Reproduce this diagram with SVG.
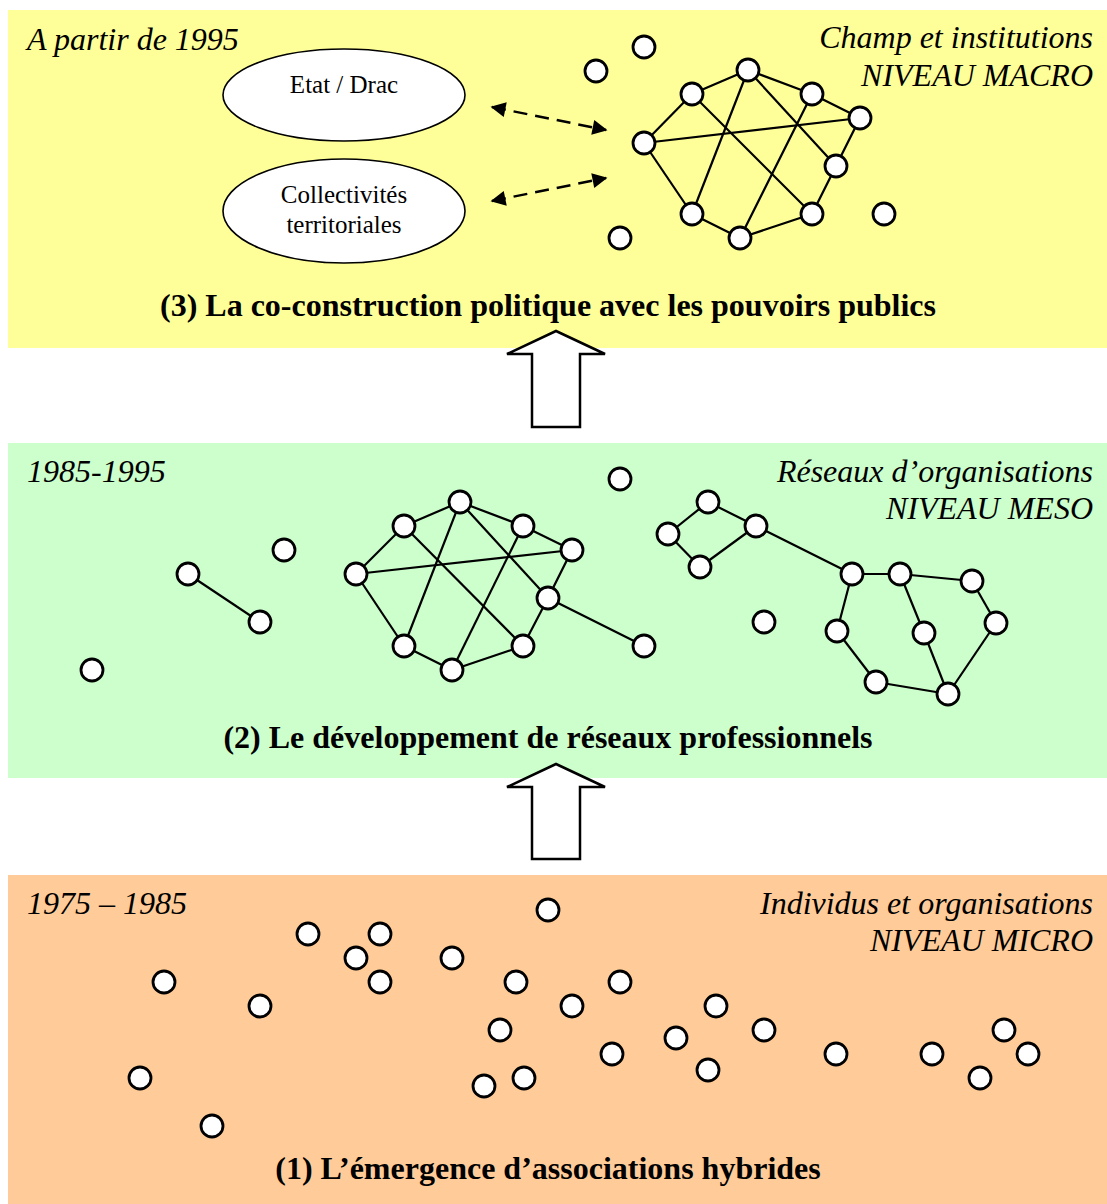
<svg xmlns="http://www.w3.org/2000/svg" width="1107" height="1204" viewBox="0 0 1107 1204">
<defs>
<style>
.lbl{font-family:"Liberation Serif","Times New Roman",serif;font-style:italic;font-size:32px;fill:#000}
.ttl{font-family:"Liberation Serif","Times New Roman",serif;font-weight:bold;font-size:32px;fill:#000;text-anchor:middle}
.etxt{font-family:"Liberation Serif","Times New Roman",serif;font-size:25px;fill:#000;text-anchor:middle}
.n{fill:#fff;stroke:#000;stroke-width:2.8}
.e{stroke:#000;stroke-width:2.2;fill:none}
.ell{fill:#fff;stroke:#000;stroke-width:1.6}
.dash{stroke:#000;stroke-width:2.5;stroke-dasharray:14 8;fill:none}
.big{fill:#fff;stroke:#000;stroke-width:2.5;stroke-linejoin:miter}
</style>
<marker id="ah" viewBox="0 0 10 10" refX="9" refY="5" markerWidth="7" markerHeight="6" orient="auto-start-reverse" markerUnits="strokeWidth">
<path d="M0,0 L10,5 L0,10 z" fill="#000"/>
</marker>
<circle id="c" r="11" class="n"/>
</defs>

<g id="panels">
<rect x="8" y="10" width="1099" height="338" fill="#FFFF99"/>
<rect x="8" y="443" width="1099" height="335" fill="#CCFFCC"/>
<rect x="8" y="875" width="1099" height="329" fill="#FFCC99"/>
</g>

<g id="labels">
<text class="lbl" x="27" y="50">A partir de 1995</text>
<text class="lbl" x="1093" y="48" text-anchor="end">Champ et institutions</text>
<text class="lbl" x="1093" y="86" text-anchor="end">NIVEAU MACRO</text>
<text class="ttl" x="548" y="316">(3) La co-construction politique avec les pouvoirs publics</text>
<text class="lbl" x="27" y="482">1985-1995</text>
<text class="lbl" x="1093" y="482" text-anchor="end">Réseaux d’organisations</text>
<text class="lbl" x="1093" y="519" text-anchor="end">NIVEAU MESO</text>
<text class="ttl" x="548" y="748">(2) Le développement de réseaux professionnels</text>
<text class="lbl" x="27" y="914">1975 – 1985</text>
<text class="lbl" x="1093" y="914" text-anchor="end">Individus et organisations</text>
<text class="lbl" x="1093" y="951" text-anchor="end">NIVEAU MICRO</text>
<text class="ttl" x="548" y="1179">(1) L’émergence d’associations hybrides</text>
</g>

<g id="connectors">
<line class="dash" x1="492" y1="107" x2="606" y2="130" marker-start="url(#ah)" marker-end="url(#ah)"/>
<line class="dash" x1="492" y1="201" x2="606" y2="178" marker-start="url(#ah)" marker-end="url(#ah)"/>
<path class="big" d="M556,331 L605,354 L580,354 L580,427 L532,427 L532,354 L507,354 Z"/>
<path class="big" d="M556,764 L605,787 L580,787 L580,859 L532,859 L532,787 L507,787 Z"/>
<g id="macro-edges">
<line class="e" x1="748" y1="70" x2="692" y2="94"/>
<line class="e" x1="748" y1="70" x2="812" y2="94"/>
<line class="e" x1="812" y1="94" x2="860" y2="118"/>
<line class="e" x1="860" y1="118" x2="836" y2="166"/>
<line class="e" x1="836" y1="166" x2="812" y2="214"/>
<line class="e" x1="812" y1="214" x2="740" y2="238"/>
<line class="e" x1="740" y1="238" x2="692" y2="214"/>
<line class="e" x1="692" y1="214" x2="644" y2="143"/>
<line class="e" x1="644" y1="143" x2="692" y2="94"/>
<line class="e" x1="644" y1="143" x2="860" y2="118"/>
<line class="e" x1="748" y1="70" x2="692" y2="214"/>
<line class="e" x1="692" y1="94" x2="812" y2="214"/>
<line class="e" x1="812" y1="94" x2="740" y2="238"/>
<line class="e" x1="748" y1="70" x2="836" y2="166"/>
</g>
<g id="meso-edges">
<line class="e" x1="188" y1="574" x2="260" y2="622"/>
<line class="e" x1="460" y1="502" x2="404" y2="526"/>
<line class="e" x1="460" y1="502" x2="523" y2="526"/>
<line class="e" x1="523" y1="526" x2="572" y2="550"/>
<line class="e" x1="572" y1="550" x2="548" y2="598"/>
<line class="e" x1="548" y1="598" x2="523" y2="646"/>
<line class="e" x1="523" y1="646" x2="452" y2="670"/>
<line class="e" x1="452" y1="670" x2="404" y2="646"/>
<line class="e" x1="404" y1="646" x2="356" y2="574"/>
<line class="e" x1="356" y1="574" x2="404" y2="526"/>
<line class="e" x1="356" y1="574" x2="572" y2="550"/>
<line class="e" x1="460" y1="502" x2="404" y2="646"/>
<line class="e" x1="404" y1="526" x2="523" y2="646"/>
<line class="e" x1="523" y1="526" x2="452" y2="670"/>
<line class="e" x1="460" y1="502" x2="548" y2="598"/>
<line class="e" x1="548" y1="598" x2="644" y2="646"/>
<line class="e" x1="708" y1="502" x2="668" y2="534"/>
<line class="e" x1="708" y1="502" x2="756" y2="526"/>
<line class="e" x1="668" y1="534" x2="700" y2="567"/>
<line class="e" x1="700" y1="567" x2="756" y2="526"/>
<line class="e" x1="756" y1="526" x2="852" y2="574"/>
<line class="e" x1="852" y1="574" x2="900" y2="574"/>
<line class="e" x1="900" y1="574" x2="972" y2="581"/>
<line class="e" x1="852" y1="574" x2="837" y2="631"/>
<line class="e" x1="837" y1="631" x2="876" y2="682"/>
<line class="e" x1="876" y1="682" x2="948" y2="694"/>
<line class="e" x1="900" y1="574" x2="924" y2="633"/>
<line class="e" x1="924" y1="633" x2="948" y2="694"/>
<line class="e" x1="972" y1="581" x2="996" y2="623"/>
<line class="e" x1="996" y1="623" x2="948" y2="694"/>
</g>
</g>

<g id="ellipse-etat">
<ellipse class="ell" cx="344" cy="95" rx="121" ry="46"/>
<text class="etxt" x="344" y="93">Etat / Drac</text>
</g>
<g id="ellipse-collectivites">
<ellipse class="ell" cx="344" cy="211" rx="121" ry="52"/>
<text class="etxt" x="344" y="203">Collectivités</text>
<text class="etxt" x="344" y="233">territoriales</text>
</g>

<g id="macro-nodes">
<use href="#c" x="644" y="47"/>
<use href="#c" x="596" y="71"/>
<use href="#c" x="884" y="214"/>
<use href="#c" x="620" y="238"/>
<use href="#c" x="748" y="70"/>
<use href="#c" x="692" y="94"/>
<use href="#c" x="812" y="94"/>
<use href="#c" x="860" y="118"/>
<use href="#c" x="644" y="143"/>
<use href="#c" x="836" y="166"/>
<use href="#c" x="692" y="214"/>
<use href="#c" x="812" y="214"/>
<use href="#c" x="740" y="238"/>
</g>

<g id="meso-nodes">
<use href="#c" x="620" y="479"/>
<use href="#c" x="284" y="550"/>
<use href="#c" x="92" y="670"/>
<use href="#c" x="188" y="574"/>
<use href="#c" x="260" y="622"/>
<use href="#c" x="764" y="622"/>
<use href="#c" x="460" y="502"/>
<use href="#c" x="404" y="526"/>
<use href="#c" x="523" y="526"/>
<use href="#c" x="572" y="550"/>
<use href="#c" x="356" y="574"/>
<use href="#c" x="548" y="598"/>
<use href="#c" x="404" y="646"/>
<use href="#c" x="523" y="646"/>
<use href="#c" x="452" y="670"/>
<use href="#c" x="644" y="646"/>
<use href="#c" x="708" y="502"/>
<use href="#c" x="668" y="534"/>
<use href="#c" x="756" y="526"/>
<use href="#c" x="700" y="567"/>
<use href="#c" x="852" y="574"/>
<use href="#c" x="900" y="574"/>
<use href="#c" x="972" y="581"/>
<use href="#c" x="837" y="631"/>
<use href="#c" x="924" y="633"/>
<use href="#c" x="996" y="623"/>
<use href="#c" x="876" y="682"/>
<use href="#c" x="948" y="694"/>
</g>

<g id="micro-nodes">
<use href="#c" x="548" y="910"/>
<use href="#c" x="308" y="934"/>
<use href="#c" x="380" y="934"/>
<use href="#c" x="356" y="958"/>
<use href="#c" x="452" y="958"/>
<use href="#c" x="164" y="982"/>
<use href="#c" x="380" y="982"/>
<use href="#c" x="516" y="982"/>
<use href="#c" x="620" y="982"/>
<use href="#c" x="260" y="1006"/>
<use href="#c" x="572" y="1006"/>
<use href="#c" x="716" y="1006"/>
<use href="#c" x="500" y="1030"/>
<use href="#c" x="676" y="1038"/>
<use href="#c" x="764" y="1030"/>
<use href="#c" x="1004" y="1030"/>
<use href="#c" x="612" y="1054"/>
<use href="#c" x="836" y="1054"/>
<use href="#c" x="932" y="1054"/>
<use href="#c" x="1028" y="1054"/>
<use href="#c" x="708" y="1070"/>
<use href="#c" x="140" y="1078"/>
<use href="#c" x="524" y="1078"/>
<use href="#c" x="980" y="1078"/>
<use href="#c" x="484" y="1086"/>
<use href="#c" x="212" y="1126"/>
</g>
</svg>
